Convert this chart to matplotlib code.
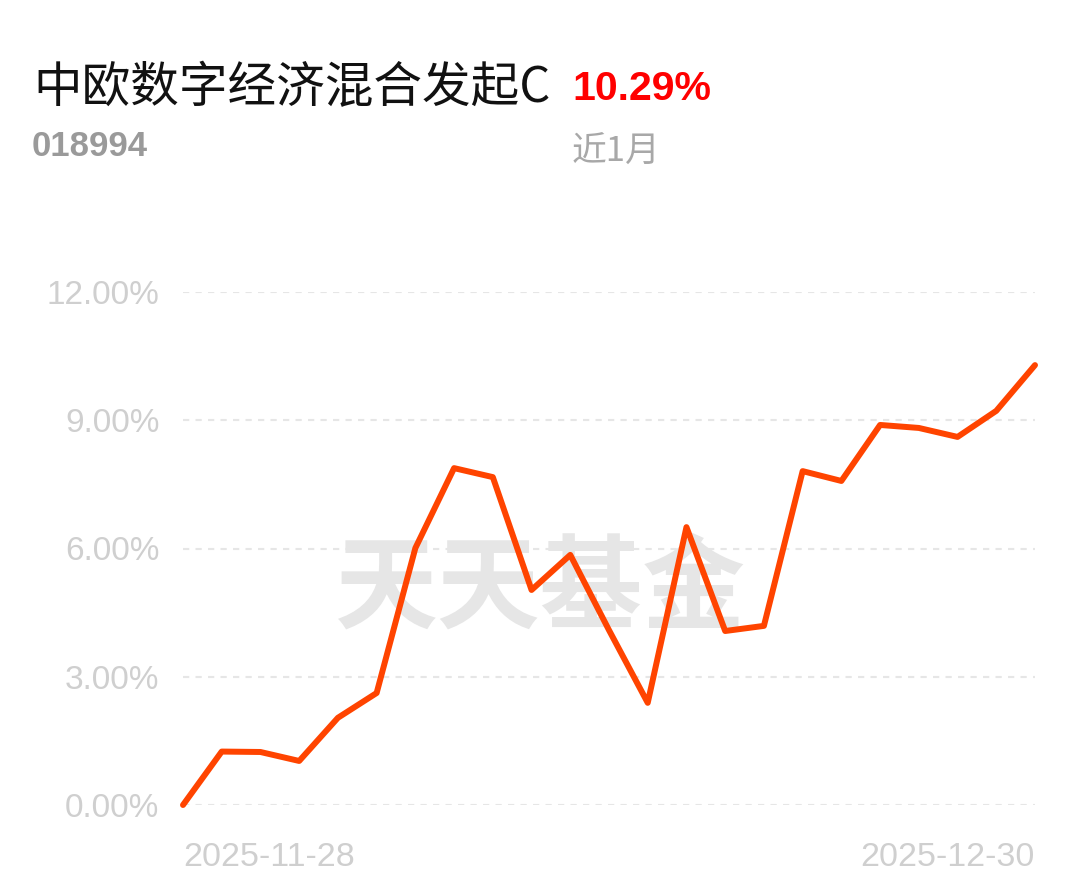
import matplotlib
matplotlib.use("Agg")
import matplotlib.pyplot as plt
from matplotlib import font_manager as fm

dates = ["2025-11-28", "2025-12-01", "2025-12-02", "2025-12-03", "2025-12-04", "2025-12-05",
         "2025-12-08", "2025-12-09", "2025-12-10", "2025-12-11", "2025-12-12",
         "2025-12-15", "2025-12-16", "2025-12-17", "2025-12-18", "2025-12-19",
         "2025-12-22", "2025-12-23", "2025-12-24", "2025-12-25", "2025-12-26",
         "2025-12-29", "2025-12-30"]
returns = [0.00, 1.25, 1.24, 1.03, 2.04, 2.62, 6.01, 7.88, 7.67, 5.03, 5.85,
           4.09, 2.39, 6.50, 4.07, 4.19, 7.81, 7.58, 8.89, 8.82, 8.61, 9.22, 10.29]
y_ticks = [0, 3, 6, 9, 12]
y_tick_labels = ["0.00%", "3.00%", "6.00%", "9.00%", "12.00%"]
fund_name = "中欧数字经济混合发起C"
fund_code = "018994"
period_return = "10.29%"
period_label = "近1月"
watermark = "天天基金"

names = {f.name for f in fm.fontManager.ttflist}
has_narrow = "Liberation Sans Narrow" in names
narrow = ["Liberation Sans Narrow", "DejaVu Sans"] if has_narrow else ["Liberation Sans", "DejaVu Sans"]
cjk = ["Noto Sans CJK SC", "DejaVu Sans"]
latin = ["Liberation Sans", "DejaVu Sans"]

W, H = 1080, 881
fig = plt.figure(figsize=(W / 100, H / 100), dpi=100)
fig.patch.set_facecolor("white")

ax_left, ax_right = 183, 1035
ax_bottom, ax_top = 805, 292
ax = fig.add_axes([ax_left / W, 1 - ax_bottom / H, (ax_right - ax_left) / W, (ax_bottom - ax_top) / H])
ax.set_facecolor("none")

x = list(range(len(dates)))
ax.set_xlim(0, len(dates) - 1)
ax.set_ylim(0, 12)

for yv in y_ticks:
    ax.axhline(yv, color="#e6e6e6", lw=1.5, dashes=(3.0, 3.0), zorder=1)

# watermark (behind the line)
ax.text(540 / W, 1 - 590 / H, watermark, transform=fig.transFigure, fontfamily=cjk,
        fontsize=74, fontweight="bold", color="#e6e6e6", ha="center", va="center", zorder=0.5)

ax.plot(x, returns, color="#ff4400", lw=4.3, solid_joinstyle="round",
        solid_capstyle="round", clip_on=False, zorder=3)

for s in ax.spines.values():
    s.set_visible(False)
ax.set_yticks(y_ticks)
ax.set_yticklabels(y_tick_labels, fontfamily=latin, fontsize=24, color="#cfcfcf")
ax.tick_params(axis="y", length=0, pad=17)
ax.set_xticks([0, len(dates) - 1])
xl = ax.set_xticklabels([dates[0], dates[-1]], fontfamily=latin, fontsize=24.5, color="#cfcfcf")
xl[0].set_ha("left")
xl[1].set_ha("right")
ax.tick_params(axis="x", length=0, pad=27)

# header
fig.text(33 / W, 1 - 88 / H, fund_name, fontfamily=cjk, fontsize=35, color="#111111",
         ha="left", va="center")
fig.text(572 / W, 1 - 89 / H, period_return, fontfamily=narrow,
         fontsize=35 if has_narrow else 29.5,
         fontweight="bold", color="#ff0000", ha="left", va="center")
fig.text(32 / W, 1 - 146 / H, fund_code, fontfamily=narrow,
         fontsize=30 if has_narrow else 25,
         fontweight="bold", color="#9a9a9a", ha="left", va="center")
fig.text(572 / W, 1 - 152 / H, period_label, fontfamily=cjk, fontsize=25, color="#a8a8a8",
         ha="left", va="center")

fig.savefig("out.png", dpi=100, facecolor="white")
